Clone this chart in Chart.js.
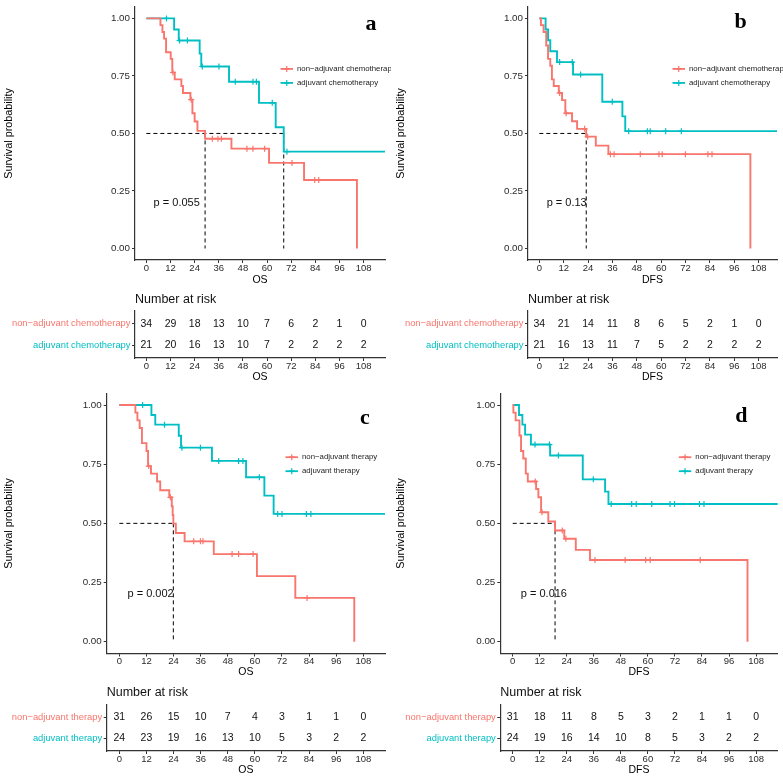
<!DOCTYPE html>
<html><head><meta charset="utf-8">
<script src="https://cdn.jsdelivr.net/npm/chart.js@4.4.1/dist/chart.umd.min.js"></script>
<style>
html,body{margin:0;padding:0;background:#fff;}
#wrap{position:relative;width:783px;height:776px;overflow:hidden;background:#fff;}
canvas{position:absolute;}
</style></head><body><div id="wrap">
<canvas id="kmA"></canvas><canvas id="kmB"></canvas><canvas id="kmC"></canvas><canvas id="kmD"></canvas>
<canvas id="rkA"></canvas><canvas id="rkB"></canvas><canvas id="rkC"></canvas><canvas id="rkD"></canvas>
</div>
<script>
// ---------- shared ticks / labels ----------
const timeTicks = [0, 12, 24, 36, 48, 60, 72, 84, 96, 108];
const survTicks = [0, 0.25, 0.5, 0.75, 1];
const survTickLabels = ['0.00', '0.25', '0.50', '0.75', '1.00'];
const groupsChemo = ['non\u2212adjuvant chemotherapy', 'adjuvant chemotherapy'];
const groupsTher = ['non\u2212adjuvant therapy', 'adjuvant therapy'];
const pValues = ['p = 0.055', 'p = 0.13', 'p = 0.002', 'p = 0.016'];
const xTitles = ['OS', 'DFS', 'OS', 'DFS'];
const panelLetters = ['a', 'b', 'c', 'd'];

// ---------- panel a (OS, chemotherapy) ----------
const aRedTimes = [7.0, 8.0, 8.8, 9.8, 12.1, 12.9, 14.1, 17.4, 18.2, 21.9, 22.9, 24.0, 25.4, 29.2, 42.3, 61.0, 78.4, 104.7];
const aRedSurv = [0.971, 0.941, 0.912, 0.853, 0.824, 0.765, 0.735, 0.706, 0.676, 0.647, 0.588, 0.552, 0.511, 0.477, 0.434, 0.372, 0.298, 0];
const aRedCensor = [13.2, 22.3, 32.8, 35.6, 37.3, 50.0, 53.0, 58.8, 72.4, 83.7, 85.7];
const aBlueTimes = [13.8, 16.1, 26.5, 27.3, 41.1, 56.0, 64.3, 68.3];
const aBlueSurv = [0.952, 0.904, 0.847, 0.791, 0.725, 0.633, 0.527, 0.421];
const aBlueCensor = [10.0, 16.5, 20.4, 27.8, 36.1, 44.2, 53.0, 54.7, 62.6, 69.9];
const aBlueLast = 120;
const aRedRisk = [34, 29, 18, 13, 10, 7, 6, 2, 1, 0];
const aBlueRisk = [21, 20, 16, 13, 10, 7, 2, 2, 2, 2];

// ---------- panel b (DFS, chemotherapy) ----------
const bRedTimes = [0.8, 2.1, 3.4, 4.3, 5.4, 6.2, 7.1, 9.6, 11.2, 12.8, 16.1, 18.6, 23.1, 27.8, 34.0, 103.9];
const bRedSurv = [0.971, 0.941, 0.882, 0.824, 0.794, 0.735, 0.706, 0.676, 0.645, 0.588, 0.553, 0.52, 0.486, 0.447, 0.41, 0];
const bRedCensor = [10.0, 13.2, 22.3, 23.8, 35.0, 36.8, 49.7, 58.9, 60.5, 71.9, 83.0, 85.0];
const bBlueTimes = [3.1, 4.3, 5.4, 8.7, 16.6, 31.0, 40.9, 42.3];
const bBlueSurv = [0.952, 0.905, 0.857, 0.81, 0.756, 0.638, 0.574, 0.51];
const bBlueCensor = [10.0, 16.2, 20.3, 35.9, 44.0, 53.2, 54.6, 62.2, 69.9];
const bBlueLast = 120;
const bRedRisk = [34, 21, 14, 11, 8, 6, 5, 2, 1, 0];
const bBlueRisk = [21, 16, 13, 11, 7, 5, 2, 2, 2, 2];

// ---------- panel c (OS, therapy) ----------
const cRedTimes = [7.1, 8.0, 9.0, 10.0, 12.0, 12.7, 14.0, 16.7, 18.1, 22.1, 23.2, 23.6, 23.9, 25.0, 28.9, 41.8, 60.9, 77.9, 104.0];
const cRedSurv = [0.968, 0.935, 0.903, 0.839, 0.806, 0.742, 0.71, 0.677, 0.64, 0.61, 0.572, 0.535, 0.499, 0.459, 0.424, 0.37, 0.277, 0.185, 0];
const cRedCensor = [13.0, 22.6, 32.9, 35.9, 37.0, 49.9, 52.8, 59.2, 83.1];
const cBlueTimes = [14.2, 15.9, 26.3, 27.3, 41.0, 56.1, 64.2, 68.3];
const cBlueSurv = [0.958, 0.917, 0.87, 0.82, 0.764, 0.695, 0.617, 0.54];
const cBlueCensor = [10.3, 20.0, 27.7, 35.9, 44.0, 52.8, 54.7, 62.0, 70.1, 72.0, 82.8, 84.8];
const cBlueLast = 120;
const cRedRisk = [31, 26, 15, 10, 7, 4, 3, 1, 1, 0];
const cBlueRisk = [24, 23, 19, 16, 13, 10, 5, 3, 2, 2];

// ---------- panel d (DFS, therapy) ----------
const dRedTimes = [0.3, 1.3, 3.0, 3.7, 4.7, 5.8, 6.7, 10.4, 11.4, 12.6, 15.8, 18.8, 22.9, 28.0, 34.3, 104.2];
const dRedSurv = [0.968, 0.935, 0.871, 0.806, 0.774, 0.71, 0.677, 0.645, 0.61, 0.547, 0.508, 0.47, 0.435, 0.388, 0.345, 0];
const dRedCensor = [10.0, 13.0, 22.0, 23.6, 36.5, 49.9, 59.0, 61.0, 83.2];
const dBlueTimes = [2.8, 4.3, 5.5, 8.1, 16.6, 31.1, 41.0, 42.5];
const dBlueSurv = [0.958, 0.917, 0.875, 0.833, 0.787, 0.686, 0.634, 0.582];
const dBlueCensor = [9.9, 16.3, 20.3, 35.8, 43.7, 52.8, 54.8, 61.7, 69.8, 71.8, 82.9, 84.9];
const dBlueLast = 120;
const dRedRisk = [31, 18, 11, 8, 5, 3, 2, 1, 1, 0];
const dBlueRisk = [24, 19, 16, 14, 10, 8, 5, 3, 2, 2];

// ---------- styling ----------
const RED = '#F8766D', BLUE = '#00BFC4';
const FONT = '"Liberation Sans", Arial, Helvetica, sans-serif';
const AXIS = '#333333';

function survAt(times, surv, t) {
  let s = 1;
  for (let i = 0; i < times.length; i++) if (times[i] <= t) s = surv[i];
  return s;
}
function stepPts(times, surv, last) {
  const pts = [{x: 0, y: 1}];
  times.forEach((t, i) => pts.push({x: t, y: surv[i]}));
  if (last !== undefined) pts.push({x: last, y: surv[surv.length - 1]});
  return pts;
}
function medianOf(times, surv) {
  const i = surv.findIndex(s => s <= 0.5);
  return i < 0 ? null : times[i];
}
function place(id, L) {
  const cv = document.getElementById(id);
  cv.width = L.w; cv.height = L.h;
  cv.style.left = L.left + 'px'; cv.style.top = L.top + 'px';
  cv.style.width = L.w + 'px'; cv.style.height = L.h + 'px';
  return cv;
}

const kmOverlay = {
  id: 'kmOverlay',
  afterDraw(chart) {
    const o = chart.options.plugins.kmOverlay;
    if (!o || !o.letter) return;
    const {ctx, chartArea: ca} = chart;
    const x = chart.scales.x, y = chart.scales.y;
    ctx.save();
    ctx.fillStyle = '#111';
    ctx.font = '11px ' + FONT;
    ctx.textAlign = 'left'; ctx.textBaseline = 'middle';
    ctx.fillText(o.pText, x.getPixelForValue(o.pX), y.getPixelForValue(o.pY));
    ctx.fillStyle = '#000';
    ctx.font = 'bold 22px "Liberation Serif", "Times New Roman", serif';
    ctx.textAlign = 'center'; ctx.textBaseline = 'alphabetic';
    ctx.fillText(o.letter, o.letterX, o.letterY);
    const yc = y.getPixelForValue(0.75);
    const tx = ca.right - o.legendDX;
    [[RED, o.labels[0], -7], [BLUE, o.labels[1], 7]].forEach(([col, lab, dy]) => {
      const yy = yc + dy;
      ctx.strokeStyle = col; ctx.lineWidth = 1.8;
      ctx.beginPath(); ctx.moveTo(tx - 16.5, yy); ctx.lineTo(tx - 4, yy); ctx.stroke();
      const cx = tx - 10.25;
      ctx.lineWidth = 1.2;
      ctx.beginPath(); ctx.moveTo(cx - 3, yy); ctx.lineTo(cx + 3, yy);
      ctx.moveTo(cx, yy - 3); ctx.lineTo(cx, yy + 3); ctx.stroke();
      ctx.fillStyle = '#222';
      ctx.font = '7.8px ' + FONT;
      ctx.textAlign = 'left'; ctx.textBaseline = 'middle';
      ctx.fillText(lab, tx, yy);
    });
    ctx.restore();
  }
};

const riskOverlay = {
  id: 'riskOverlay',
  afterDatasetsDraw(chart) {
    const o = chart.options.plugins.riskOverlay;
    if (!o || !o.title) return;
    const ctx = chart.ctx;
    ctx.save();
    ctx.fillStyle = '#111';
    ctx.font = '10.5px ' + FONT;
    ctx.textAlign = 'center'; ctx.textBaseline = 'middle';
    chart.data.datasets.forEach((ds, di) => {
      const meta = chart.getDatasetMeta(di);
      meta.data.forEach((pt, i) => ctx.fillText(String(ds.counts[i]), pt.x, pt.y));
    });
    ctx.font = '12.5px ' + FONT;
    ctx.textAlign = 'left';
    ctx.fillText(o.title, chart.chartArea.left, o.titleY);
    ctx.restore();
  }
};
Chart.register(kmOverlay, riskOverlay);

function baseX(L, title, tickPad, titlePB) {
  return {
    type: 'linear', min: L.xMin, max: L.xMax,
    afterBuildTicks: s => { s.ticks = timeTicks.map(v => ({value: v})); },
    afterFit: s => { s.height = L.xH; },
    grid: {display: true, drawOnChartArea: false, drawTicks: true, tickLength: 3, color: AXIS, lineWidth: 1},
    border: {display: true, color: AXIS, width: 1.2},
    ticks: {autoSkip: false, maxRotation: 0, padding: tickPad, color: '#2b2b2b',
            font: {family: FONT, size: 9.5, lineHeight: 1}, callback: v => String(v)},
    title: {display: true, text: title, color: '#000', font: {family: FONT, size: 10.5, lineHeight: 1},
            padding: {top: 0, bottom: titlePB}}
  };
}

function kmChart(id, L, D) {
  const cv = place(id, L);
  const ds = [];
  const cens = (arr, T, S, col) => ({
    data: arr.map(t => ({x: t, y: survAt(T, S, t)})), showLine: false,
    pointStyle: 'cross', pointRadius: 3, pointBorderWidth: 1.2, pointBorderColor: col, borderColor: col
  });
  const curve = (T, S, last, col) => ({
    data: stepPts(T, S, last), stepped: 'before', borderColor: col, borderWidth: 1.9,
    pointRadius: 0, fill: false, tension: 0
  });
  ds.push(cens(D.redC, D.redT, D.redS, RED));
  ds.push(cens(D.blueC, D.blueT, D.blueS, BLUE));
  ds.push(curve(D.redT, D.redS, undefined, RED));
  ds.push(curve(D.blueT, D.blueS, D.blueLast, BLUE));
  const meds = [medianOf(D.redT, D.redS), medianOf(D.blueT, D.blueS)].filter(m => m !== null);
  const dash = pts => ({data: pts, borderColor: '#000', borderWidth: 1, borderDash: [4, 3], pointRadius: 0, fill: false});
  if (meds.length) {
    ds.push(dash([{x: 0, y: 0.5}, {x: Math.max(...meds), y: 0.5}]));
    meds.forEach(m => ds.push(dash([{x: m, y: 0.5}, {x: m, y: 0}])));
  }
  new Chart(cv, {
    type: 'line',
    data: {datasets: ds},
    options: {
      responsive: false, animation: false, devicePixelRatio: 1, events: [],
      layout: {padding: {left: 0, top: L.padTop, right: L.w - L.chartRight, bottom: 0}},
      plugins: {legend: {display: false}, tooltip: {enabled: false},
        kmOverlay: {letter: D.letter, letterX: L.letterX, letterY: L.letterY, pText: D.p, pX: 3.6, pY: 0.2,
                    labels: D.groups, legendDX: L.legendDX}},
      scales: {
        x: baseX(L, D.xTitle, L.xTickPad, 4.75),
        y: {
          type: 'linear', min: -0.05, max: 1.05,
          afterBuildTicks: s => { s.ticks = survTicks.map(v => ({value: v})); },
          afterFit: s => { s.width = L.yW; },
          grid: {display: true, drawOnChartArea: false, drawTicks: true, tickLength: 3, color: AXIS, lineWidth: 1},
          border: {display: true, color: AXIS, width: 1.2},
          ticks: {padding: 2, color: '#2b2b2b', font: {family: FONT, size: 9.8, lineHeight: 1},
                  callback: v => survTickLabels[survTicks.indexOf(v)]},
          title: {display: true, text: 'Survival probability', color: '#000',
                  font: {family: FONT, size: 10.8, lineHeight: 1}, padding: {top: 3.6, bottom: 0}}
        }
      }
    }
  });
}

function riskChart(id, L, R) {
  const cv = place(id, L);
  const rows = [R.red, R.blue];
  const ds = rows.map((counts, r) => ({
    data: timeTicks.map(t => ({x: t, y: r + 1})), counts: counts, showLine: false, pointRadius: 0
  }));
  new Chart(cv, {
    type: 'line',
    data: {datasets: ds},
    options: {
      responsive: false, animation: false, devicePixelRatio: 1, events: [],
      layout: {padding: {left: 0, top: L.padTop, right: L.w - L.chartRight, bottom: 0}},
      plugins: {legend: {display: false}, tooltip: {enabled: false},
        riskOverlay: {title: 'Number at risk', titleY: L.titleY}},
      scales: {
        x: baseX(L, R.xTitle, 1, 2.75),
        y: {
          type: 'linear', min: 0.4, max: 2.6, reverse: true,
          afterBuildTicks: s => { s.ticks = [1, 2].map(v => ({value: v})); },
          afterFit: s => { s.width = L.yW; },
          grid: {display: true, drawOnChartArea: false, drawTicks: true, tickLength: 3, color: AXIS, lineWidth: 1},
          border: {display: true, color: AXIS, width: 1.2},
          ticks: {padding: 1.5, font: {family: FONT, size: 9.4, lineHeight: 1},
                  color: c => [RED, BLUE][c.index], callback: (v, i) => R.groups[i]}
        }
      }
    }
  });
}

// ---------- layout ----------
const kmLayouts = [
  {left: 0, top: 0, w: 391, h: 290, yW: 135, xH: 30, padTop: 0.5, chartRight: 385, xMin: -5.65, xMax: 118.65, letterX: 371, letterY: 30, legendDX: 88, xTickPad: 0.25},
  {left: 392, top: 0, w: 391, h: 290, yW: 136, xH: 30, padTop: 0.5, chartRight: 385, xMin: -5.57, xMax: 117.0, letterX: 348.7, letterY: 28, legendDX: 88, xTickPad: 0.25},
  {left: 0, top: 385, w: 391, h: 297, yW: 106.7, xH: 28.5, padTop: 8.2, chartRight: 385, xMin: -5.6, xMax: 117.6, letterX: 365, letterY: 39, legendDX: 83, xTickPad: 0.5},
  {left: 392, top: 385, w: 391, h: 297, yW: 108.3, xH: 28.5, padTop: 8.2, chartRight: 385.7, xMin: -5.5, xMax: 117.6, letterX: 349.3, letterY: 36.7, legendDX: 82.4, xTickPad: 0.5}
];
const rkLayouts = [
  {left: 0, top: 290, w: 391, h: 95, yW: 135, xH: 27, padTop: 21, chartRight: 385, xMin: -5.65, xMax: 118.65, titleY: 10},
  {left: 392, top: 290, w: 391, h: 95, yW: 136, xH: 27, padTop: 21, chartRight: 385, xMin: -5.57, xMax: 117.0, titleY: 10},
  {left: 0, top: 682, w: 391, h: 96, yW: 106.7, xH: 27, padTop: 23, chartRight: 385, xMin: -5.6, xMax: 117.6, titleY: 11},
  {left: 392, top: 682, w: 391, h: 96, yW: 108.3, xH: 27, padTop: 23, chartRight: 385.7, xMin: -5.5, xMax: 117.6, titleY: 11}
];

const panels = [
  {redT: aRedTimes, redS: aRedSurv, redC: aRedCensor, blueT: aBlueTimes, blueS: aBlueSurv, blueC: aBlueCensor, blueLast: aBlueLast, red: aRedRisk, blue: aBlueRisk, groups: groupsChemo},
  {redT: bRedTimes, redS: bRedSurv, redC: bRedCensor, blueT: bBlueTimes, blueS: bBlueSurv, blueC: bBlueCensor, blueLast: bBlueLast, red: bRedRisk, blue: bBlueRisk, groups: groupsChemo},
  {redT: cRedTimes, redS: cRedSurv, redC: cRedCensor, blueT: cBlueTimes, blueS: cBlueSurv, blueC: cBlueCensor, blueLast: cBlueLast, red: cRedRisk, blue: cBlueRisk, groups: groupsTher},
  {redT: dRedTimes, redS: dRedSurv, redC: dRedCensor, blueT: dBlueTimes, blueS: dBlueSurv, blueC: dBlueCensor, blueLast: dBlueLast, red: dRedRisk, blue: dBlueRisk, groups: groupsTher}
];
const kmIds = ['kmA', 'kmB', 'kmC', 'kmD'], rkIds = ['rkA', 'rkB', 'rkC', 'rkD'];
panels.forEach((P, i) => {
  P.letter = panelLetters[i]; P.p = pValues[i]; P.xTitle = xTitles[i];
  kmChart(kmIds[i], kmLayouts[i], P);
  riskChart(rkIds[i], rkLayouts[i], P);
});
</script></body></html>
